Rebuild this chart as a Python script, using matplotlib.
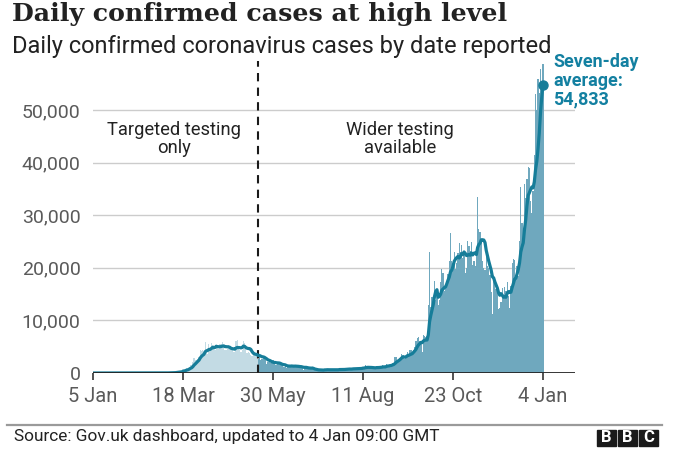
import numpy as np
import pandas as pd
import matplotlib
matplotlib.use("Agg")
import matplotlib.pyplot as plt
import matplotlib.dates as mdates
from matplotlib.lines import Line2D
from matplotlib.patches import Rectangle

# ---------------- data (daily confirmed cases by date reported) ----------------
jan20 = [0] * 26 + [2]                                   # 5-31 Jan
feb20 = [0, 0, 0, 0, 0, 1, 0, 0, 1, 4, 0, 0, 1, 0, 0, 0, 0, 0, 0, 0,
         0, 0, 0, 4, 0, 0, 2, 5, 3]
mar20 = [12, 4, 11, 34, 30, 48, 43, 67, 48, 61, 74, 134, 208, 342, 251, 152,
         407, 676, 643, 714, 1035, 665, 967, 1427, 1452, 2129, 2885, 2546,
         2433, 2619, 3009]
apr20 = [4324, 4244, 4450, 3735, 5903, 3802, 3634, 5491, 4344, 5706, 5234,
         5288, 4342, 5252, 4603, 4617, 5599, 5525, 5850, 4676, 4301, 4451,
         4583, 5386, 4913, 4463, 4310, 3996, 4076, 6032]
may20 = [6201, 4806, 4339, 3985, 4406, 6111, 5614, 4649, 3896, 3923, 3877,
         3403, 3242, 3446, 3560, 3450, 3534, 2684, 3412, 2472, 2615, 3287,
         2959, 2409, 1625, 2004, 2013, 1887, 2095, 2445, 1936]
jun20 = [1570, 1613, 1871, 1805, 1650, 1557, 1326, 1205, 1387, 1003, 1266,
         1541, 1425, 1514, 1056, 1279, 1115, 1218, 1346, 1295, 1221, 958, 874,
         653, 1118, 1380, 890, 901, 815, 689]
jul20 = [829, 576, 624, 516, 624, 352, 581, 630, 512, 642, 820, 650, 530, 598,
         538, 463, 687, 827, 726, 580, 445, 560, 769, 767, 798, 685, 685, 581,
         763, 846, 880]
aug20 = [743, 744, 938, 670, 892, 950, 871, 758, 1062, 816, 1148, 1009, 1441,
         1062, 1012, 1040, 713, 1089, 812, 1182, 1033, 1288, 1041, 853, 1184,
         1048, 1522, 1276, 1108, 1715, 1406]
sep20 = [1295, 1508, 1735, 1940, 1813, 2988, 2948, 2460, 2659, 2919, 3539,
         3497, 3330, 2621, 3105, 3991, 3395, 4322, 4422, 3899, 4368, 4926,
         6178, 6634, 6874, 6042, 5693, 4044, 7143, 7108]
oct20 = [6914, 6968, 12872, 22961, 12594, 14542, 14162, 17540, 13864, 15166,
         12872, 13972, 17234, 19724, 18980, 15650, 16171, 16982, 18804, 21331,
         26688, 21242, 20530, 23012, 19790, 20890, 22885, 24701, 23065, 24405,
         21915]
nov20 = [23254, 18950, 20018, 25177, 24141, 23287, 24957, 20572, 21350, 20412,
         22950, 33470, 27301, 26860, 24962, 21363, 20051, 19609, 22915, 20252,
         19875, 18662, 15450, 11299, 18213, 17555, 16022, 15871, 12155, 12330]
dec20 = [13430, 16170, 14879, 16298, 15539, 17272, 14718, 12282, 16578, 20964,
         21672, 21502, 18447, 20263, 18450, 25161, 35383, 28507, 27052, 35928,
         33364, 36804, 39237, 39036, 32725, 30501, 34693, 41385, 53135, 50023,
         55892]
jan21 = [53285, 57725, 54990, 58784]

start_date = "2020-01-05"
wider_testing_date = "2020-05-18"
tick_dates = ["2020-01-05", "2020-03-18", "2020-05-30", "2020-08-11",
              "2020-10-23", "2021-01-04"]
tick_labels = ["5 Jan", "18 Mar", "30 May", "11 Aug", "23 Oct", "4 Jan"]
y_ticks = [0, 10000, 20000, 30000, 40000, 50000]

cases = (jan20 + feb20 + mar20 + apr20 + may20 + jun20 + jul20 + aug20 +
         sep20 + oct20 + nov20 + dec20 + jan21)
dates = pd.date_range(start_date, periods=len(cases), freq="D")
s = pd.Series(cases, index=dates, dtype=float)
avg = s.rolling(7, min_periods=1).mean()

# ---------------- style ----------------
SANS = ["Roboto", "DejaVu Sans"]
plt.rcParams["font.family"] = SANS
LIGHT = "#c3dbe4"
DARK = "#6fa8be"
LINE = "#167d99"
LABEL = "#1380a1"
GREY = "#5a5a5a"

W, H = 680, 459
fig = plt.figure(figsize=(W / 100, H / 100), dpi=100)
ax = fig.add_axes([93 / W, (H - 373) / H, 482 / W, 315.6 / H])

x = mdates.date2num(dates)
cut = mdates.date2num(pd.Timestamp(wider_testing_date))
colors = [LIGHT if xi < cut else DARK for xi in x]
ax.bar(x, s.values, width=1.0, color=colors, linewidth=0, zorder=2)
ax.plot(x, avg.values, color=LINE, lw=2.3, zorder=4, solid_capstyle="round")
ax.plot(x[-1], avg.values[-1], "o", color=LINE, ms=6.5, zorder=5)

ax.axvline(cut, ymin=0, ymax=0.99, color="#1a1a1a", lw=1.5,
           dashes=(4, 3), zorder=3)

ax.set_ylim(0, 60000)
ax.set_xlim(mdates.date2num(pd.Timestamp(start_date)),
            mdates.date2num(pd.Timestamp("2021-01-30")))
ax.set_yticks(y_ticks)
ax.set_yticklabels([f"{v:,}" for v in y_ticks])
ax.set_xticks(mdates.date2num(pd.to_datetime(tick_dates)))
ax.set_xticklabels(tick_labels)
for v in y_ticks[1:]:
    ax.axhline(v, color="#cccccc", lw=1.0, zorder=1)
ax.axhline(0, color="#222222", lw=2.0, zorder=6)
for sp in ax.spines.values():
    sp.set_visible(False)
ax.tick_params(axis="y", length=0, pad=9, labelsize=14, labelcolor=GREY)
ax.tick_params(axis="x", length=5, width=1.2, color="#333333", pad=5,
               labelsize=14.5, labelcolor=GREY)

ax.text(mdates.date2num(pd.Timestamp("2020-03-11")), 44500,
        "Targeted testing\nonly", ha="center", va="center", fontsize=13.2,
        color="#222222", linespacing=1.05)
ax.text(mdates.date2num(pd.Timestamp("2020-09-10")), 44500,
        "Wider testing\navailable", ha="center", va="center", fontsize=13.2,
        color="#222222", linespacing=1.05)

fig.text(553 / W, 1 - 53 / H,
         f"Seven-day\naverage:\n{avg.values[-1]:,.0f}", ha="left", va="top",
         fontsize=13, fontweight="bold", color=LABEL, linespacing=1.05)

# titles
fig.text(12 / W, 1 - 2 / H, "Daily confirmed cases at high level",
         ha="left", va="top", fontsize=18.2, fontweight="bold",
         family=["DejaVu Serif"], color="#222222")
fig.text(12 / W, 1 - 35 / H, "Daily confirmed coronavirus cases by date reported",
         ha="left", va="top", fontsize=17, color="#222222")

# footer
fig.add_artist(Line2D([7 / W, 662 / W], [1 - 425 / H, 1 - 425 / H],
                      color="#9a9a9a", lw=1.6, transform=fig.transFigure))
fig.text(14 / W, 1 - 437 / H, "Source: Gov.uk dashboard, updated to 4 Jan 09:00 GMT",
         ha="left", va="center", fontsize=12.4, color="#222222")
for i, letter in enumerate("BBC"):
    x0 = 597 + i * 21
    fig.add_artist(Rectangle((x0 / W, 1 - 446 / H), 19 / W, 16.5 / H,
                             transform=fig.transFigure, color="#1a1a1a"))
    fig.text((x0 + 9.5) / W, 1 - 438 / H, letter, ha="center", va="center",
             fontsize=12, fontweight="bold", color="white")

fig.savefig("out.png", dpi=100)
